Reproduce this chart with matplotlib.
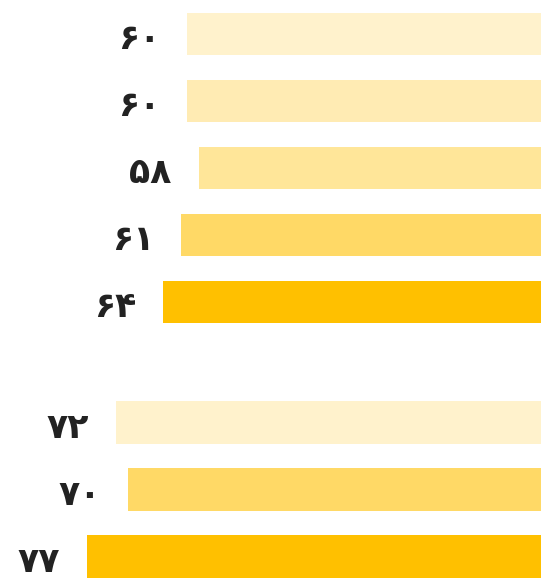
import matplotlib
matplotlib.use('Agg')
from matplotlib import pyplot as plt

# values per group (top to bottom)
group1_values = [60, 60, 58, 61, 64]
group1_labels = ['۶۰', '۶۰', '۵۸', '۶۱', '۶۴']
group1_colors = ['#FFF2CC', '#FFEBB3', '#FFE699', '#FFD966', '#FFC000']

group2_values = [72, 70, 77]
group2_labels = ['۷۲', '۷۰', '۷۷']
group2_colors = ['#FFF2CC', '#FFD966', '#FFC000']

fig = plt.figure(figsize=(5.41, 5.78), dpi=100)
ax = fig.add_axes([0, 0, 1, 1])

gap = 0.8
pos1 = list(range(len(group1_values)))
pos2 = [len(group1_values) + gap + i for i in range(len(group2_values))]

values = group1_values + group2_values
labels = group1_labels + group2_labels
colors = group1_colors + group2_colors
positions = pos1 + pos2

ax.barh(positions, values, height=0.63, color=colors)

for y, v, lab in zip(positions, values, labels):
    ax.annotate(lab, xy=(v, y), xytext=(-27, -5), textcoords='offset pixels',
                ha='right', va='center', fontsize=25, fontweight='bold',
                color='#222222', family='DejaVu Sans')

ax.set_xlim(91.7, 0)
ax.set_ylim(8.12, -0.507)
ax.axis('off')

fig.savefig('out.png', dpi=100)
